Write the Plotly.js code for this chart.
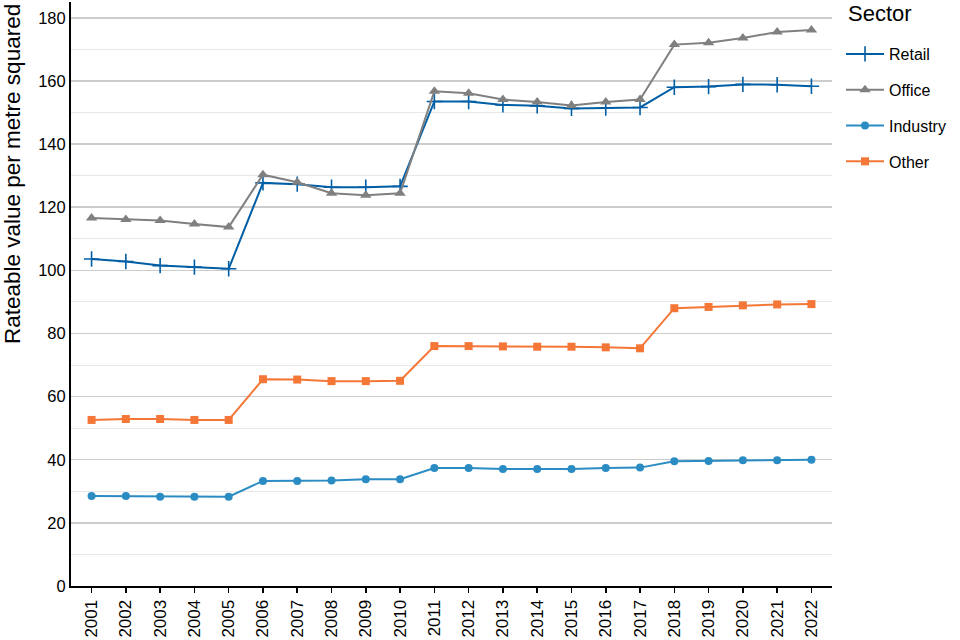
<!DOCTYPE html>
<html><head><meta charset="utf-8">
<script src="https://cdn.plot.ly/plotly-3.0.1.min.js"></script>
<style>html,body{margin:0;padding:0;background:#fff}#chart{width:960px;height:640px}</style>
</head><body><div id="chart"></div>
<script>
const years = [2001,2002,2003,2004,2005,2006,2007,2008,2009,2010,2011,2012,2013,2014,2015,2016,2017,2018,2019,2020,2021,2022];
const retail = [103.6,102.8,101.5,101.0,100.5,127.7,127.3,126.3,126.3,126.6,153.5,153.5,152.4,152.1,151.3,151.4,151.6,158.0,158.2,158.9,158.8,158.3];
const office = [116.6,116.1,115.8,114.7,113.7,130.3,127.9,124.4,123.8,124.4,156.7,156.1,154.1,153.3,152.2,153.3,154.1,171.5,172.1,173.6,175.5,176.1];
const industry = [28.5,28.5,28.3,28.3,28.3,33.3,33.3,33.4,33.8,33.8,37.4,37.4,37.1,37.1,37.1,37.4,37.5,39.5,39.6,39.8,39.8,40.0];
const other = [52.6,52.9,52.9,52.6,52.6,65.5,65.4,64.9,64.9,65.0,76.0,76.0,75.9,75.8,75.8,75.6,75.3,88.0,88.4,88.9,89.2,89.3];
const seriesNames = ["Retail","Office","Industry","Other"];

const colors = ["#005EA5","#808080","#2B8CC4","#F47738"];
const symbols = ["cross-thin-open","triangle-up","circle","square"];
const sizes = [11,10,8,8];
const data = [retail, office, industry, other].map((vals,i)=>({
  type:'scatter', mode:'lines+markers', x: years, y: vals, name: seriesNames[i],
  legendgroup: 'g'+i,
  line:{color:colors[i], width:2},
  marker:{symbol:symbols[i], size:sizes[i], color:colors[i], line:{color:colors[i], width: i===0?1.6:0}}
}));

const layout = {
  width:960, height:640,
  margin:{l:71, r:128, t:2, b:54},
  paper_bgcolor:'#fff', plot_bgcolor:'#fff',
  font:{family:'Liberation Sans, Arial, sans-serif', color:'#000'},
  xaxis:{
    range:[2000.4,2022.6], tickmode:'array', tickvals: years, ticktext: years.map(String),
    tickangle:-90, tickfont:{size:17, color:'#000'},
    showgrid:false, zeroline:false,
    showline:true, linecolor:'#000', linewidth:2,
    ticks:'outside', ticklen:5, tickcolor:'#000', tickwidth:1.5
  },
  yaxis:{
    range:[0,185], tickvals:[0,20,40,60,80,100,120,140,160,180],
    tickfont:{size:16.5, color:'#000'},
    showgrid:true, gridcolor:'#cccccc', gridwidth:1.5,
    minor:{tickvals:[10,30,50,70,90,110,130,150,170], showgrid:true, gridcolor:'#e8e8e8', gridwidth:1},
    zeroline:false, showline:true, linecolor:'#000', linewidth:2, ticks:''
  },
  annotations:[
    {text:'Rateable value per metre squared', xref:'paper', yref:'paper', x:-0.0775, y:1, xanchor:'center', yanchor:'top',
     textangle:-90, showarrow:false, font:{size:22.5, color:'#000'}},
    {text:'Sector', xref:'paper', yref:'paper', x:(846-71)/761, y:1-(14-2)/584, xanchor:'left', yanchor:'middle',
     showarrow:false, font:{size:22, color:'#000'}}
  ],
  legend:{
    x:(841-71)/761, xanchor:'left', y:1-(37-2)/584, yanchor:'top',
    font:{size:16}, tracegroupgap:12, traceorder:'grouped', itemwidth:38,
    bgcolor:'rgba(0,0,0,0)'
  },
  showlegend:true
};
Plotly.newPlot('chart', data, layout, {displayModeBar:false, staticPlot:true});
</script></body></html>
